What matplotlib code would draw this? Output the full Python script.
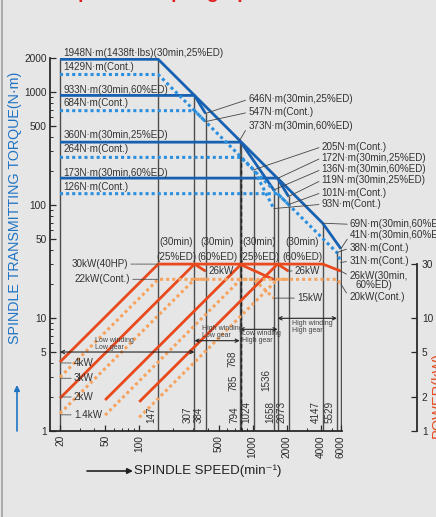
import matplotlib
matplotlib.use("Agg")
import matplotlib.pyplot as plt
from matplotlib.ticker import FixedLocator, FixedFormatter, NullFormatter
from matplotlib.lines import Line2D

plt.rcParams['font.family'] = ['Liberation Sans', 'DejaVu Sans']

# ---- torque curves (speed min-1, torque N·m) ----
ll30_n, ll30_t = [20, 147, 307, 384], [1948, 1948, 933, 646]
llc_n, llc_t = [20, 147, 384], [1429, 1429, 547]
hl30_n, hl30_t = [20, 307, 768, 1536], [933, 933, 373, 136]
hlc_n, hlc_t = [20, 307, 1024, 1536], [684, 684, 205, 93]
lh30_n, lh30_t = [20, 794, 1658, 2073], [360, 360, 172, 119]
lhc_n, lhc_t = [20, 785, 2073], [264, 264, 101]
hh30_n, hh30_t = [20, 1658, 4147, 6000], [173, 173, 69, 41]
hhc_n, hhc_t = [20, 1658, 5529, 6000], [126, 126, 38, 31]

# ---- power curves (speed min-1, power kW) ----
pll30_n, pll30_p = [20, 147, 307, 384], [4.08, 30, 30, 26]
pllc_n, pllc_p = [20, 147, 384], [2.99, 22, 22]
phl30_n, phl30_p = [20, 307, 768, 1536], [1.95, 30, 30, 21.9]
phlc_n, phlc_p = [20, 307, 1024, 1536], [1.43, 22, 22, 15]
plh30_n, plh30_p = [50, 794, 1658, 2073], [1.88, 30, 30, 26]
plhc_n, plhc_p = [50, 785, 2073], [1.38, 22, 22]
phh30_n, phh30_p = [100, 1658, 4147, 6000], [1.81, 30, 30, 26]
phhc_n, phhc_p = [100, 1658, 5529, 6000], [1.32, 22, 22, 20]

# vertical speed lines and the torque where they stop
vl_speed = [20, 147, 307, 384, 768, 794, 1024, 1536, 1658, 2073, 4147, 5529, 6000]
vl_top = [1948, 1948, 933, 646, 373, 360, 205, 136, 172, 119, 69, 38, 41]
low_labels = ['147', '307', '384', '794', '1024', '1658', '2073', '4147', '5529']
up_labels = ['768', '785', '1536']

x_major = [20, 50, 100, 500, 1000, 2000, 4000, 6000]
y_major = [1, 5, 10, 50, 100, 500, 1000, 2000]
p_major = [1, 2, 5, 10, 30]

BLUE, LBLUE = '#1761b2', '#2b8fe0'
RED, ORANGE = '#e8491d', '#f5a35f'
GRAY, TXT = '#4d4d4d', '#333333'
W, H = 436, 517

fig = plt.figure(figsize=(W / 100, H / 100), dpi=100)
fig.patch.set_facecolor('#e6e6e6')
ax = fig.add_axes([50 / W, 1 - 431 / H, 291.5 / W, 373 / H])
ax.set_facecolor('none')
ax.set_xscale('log')
ax.set_yscale('log')
ax.set_xlim(16.33, 6073)
ax.set_ylim(1, 2000)
for s in ['top', 'right']:
    ax.spines[s].set_visible(False)
for s in ['left', 'bottom']:
    ax.spines[s].set_linewidth(1.3)
    ax.spines[s].set_color('#2a2a2a')

# vertical lines
ax.vlines(vl_speed, 1, vl_top, colors=GRAY, lw=1.0, zorder=1)
ax.vlines([785], 1, 264, colors='#222', lw=1.0, linestyles=(0, (3, 2)), zorder=1)

dot = (0, (1, 1))
solid = dict(lw=2.0, solid_capstyle='butt', zorder=3)
dotted = dict(lw=2.2, ls=dot, zorder=3)
for n, t in [(ll30_n, ll30_t), (hl30_n, hl30_t), (lh30_n, lh30_t), (hh30_n, hh30_t)]:
    ax.plot(n, t, color=BLUE, **solid)
for n, t in [(llc_n, llc_t), (hlc_n, hlc_t), (lhc_n, lhc_t), (hhc_n, hhc_t)]:
    ax.plot(n, t, color=LBLUE, **dotted)
for n, p in [(pll30_n, pll30_p), (phl30_n, phl30_p), (plh30_n, plh30_p), (phh30_n, phh30_p)]:
    ax.plot(n, p, color=RED, **solid)
for n, p in [(pllc_n, pllc_p), (phlc_n, phlc_p), (plhc_n, plhc_p), (phhc_n, phhc_p)]:
    ax.plot(n, p, color=ORANGE, **dotted)

# ticks
ax.xaxis.set_major_locator(FixedLocator(x_major))
ax.xaxis.set_major_formatter(FixedFormatter([str(v) for v in x_major]))
ax.xaxis.set_minor_locator(FixedLocator([m * 10 ** k for k in range(1, 4) for m in range(2, 10)
                                         if 16 < m * 10 ** k < 6100 and m * 10 ** k not in x_major]))
ax.xaxis.set_minor_formatter(NullFormatter())
ax.yaxis.set_major_locator(FixedLocator(y_major))
ax.yaxis.set_major_formatter(FixedFormatter([str(v) for v in y_major]))
ax.yaxis.set_minor_locator(FixedLocator([m * 10 ** k for k in range(0, 4) for m in range(2, 10)
                                         if m * 10 ** k < 2000 and m * 10 ** k not in y_major]))
ax.yaxis.set_minor_formatter(NullFormatter())
ax.tick_params(which='major', direction='in', length=4, width=0.9, labelsize=7.3, colors='#2a2a2a')
ax.tick_params(which='minor', direction='in', length=2.5, width=0.7, colors='#2a2a2a')
ax.tick_params(axis='x', which='major', labelrotation=90, pad=3)
ax.tick_params(axis='y', which='major', pad=2.5)

# right power axis
ax2 = fig.add_axes([416.5 / W, 1 - 431 / H, 0.5 / W, 373 / H])
ax2.set_facecolor('none')
ax2.set_yscale('log')
ax2.set_ylim(1, 2000)
ax2.set_xticks([])
for s in ['top', 'left', 'bottom']:
    ax2.spines[s].set_visible(False)
ax2.spines['right'].set_bounds(1, 30)
ax2.spines['right'].set_linewidth(1.3)
ax2.spines['right'].set_color('#2a2a2a')
ax2.yaxis.tick_right()
ax2.yaxis.set_major_locator(FixedLocator(p_major))
ax2.yaxis.set_major_formatter(FixedFormatter([str(v) for v in p_major]))
ax2.yaxis.set_minor_locator(FixedLocator([]))
ax2.tick_params(direction='in', length=4, width=0.9, labelsize=7.3, colors='#2a2a2a')

fs = 7.1
# left torque labels
for txt, y in [("1948N·m(1438ft·lbs)(30min,25%ED)", 2207), ("1429N·m(Cont.)", 1675),
               ("933N·m(30min,60%ED)", 1042), ("684N·m(Cont.)", 795),
               ("360N·m(30min,25%ED)", 416), ("264N·m(Cont.)", 311),
               ("173N·m(30min,60%ED)", 193), ("126N·m(Cont.)", 145)]:
    ax.text(21.4, y, txt, fontsize=fs, color=TXT, va='center', ha='left', clip_on=False)

lead = dict(arrowstyle='-', lw=0.6, color='#444', shrinkA=0, shrinkB=0, relpos=(0, 0.5))
for txt, xy, xyt in [("646N·m(30min,25%ED)", (384, 646), (915, 861)),
                     ("547N·m(Cont.)", (384, 547), (915, 661)),
                     ("373N·m(30min,60%ED)", (768, 373), (915, 503)),
                     ("205N·m(Cont.)", (1024, 205), (4064, 328)),
                     ("172N·m(30min,25%ED)", (1658, 172), (4064, 262)),
                     ("136N·m(30min,60%ED)", (1536, 136), (4064, 207)),
                     ("119N·m(30min,25%ED)", (2073, 119), (4064, 166)),
                     ("101N·m(Cont.)", (2073, 101), (4064, 129)),
                     ("93N·m(Cont.)", (1536, 93), (4064, 101.5)),
                     ("69N·m(30min,60%ED)", (4147, 69), (7215, 67.5)),
                     ("41N·m(30min,60%ED)", (6000, 41), (7215, 54.3)),
                     ("38N·m(Cont.)", (5529, 38), (7100, 41.4)),
                     ("31N·m(Cont.)", (6000, 31), (7100, 31.9)),
                     ("26kW(30min,", (6000, 26), (7100, 23.7)),
                     ("20kW(Cont.)", (6000, 20), (7100, 15.2)),
                     ("26kW", (384, 26), (412, 26.2)),
                     ("26kW", (2073, 26), (2360, 26.2)),
                     ("15kW", (1536, 15), (2460, 15))]:
    ax.annotate(txt, xy=xy, xytext=xyt, fontsize=fs, color=TXT, va='center', ha='left',
                arrowprops=lead, annotation_clip=False)
ax.text(8150, 19.6, "60%ED)", fontsize=fs, color=TXT, va='center', ha='left', clip_on=False)

# left power labels
dash = dict(arrowstyle='-', lw=0.6, color='#444', ls=(0, (2, 1)), shrinkA=0, shrinkB=0)
ax.annotate("30kW(40HP)", xy=(147, 30), xytext=(80, 30), fontsize=fs, color=TXT, ha='right',
            va='center', arrowprops=dict(dash, relpos=(1, 0.5)))
ax.annotate("22kW(Cont.)", xy=(147, 22), xytext=(83, 22), fontsize=fs, color=TXT, ha='right',
            va='center', arrowprops=dict(dash, relpos=(1, 0.5)))
for txt, p in [("4kW", 4.0), ("3kW", 2.93), ("2kW", 2.0), ("1.4kW", 1.39)]:
    ax.annotate(txt, xy=(20.3, p), xytext=(26.5, p), fontsize=fs, color=TXT, ha='left',
                va='center', arrowprops=dict(dash, relpos=(0, 0.5)))

for nc in [212, 486, 1147, 2750]:
    ax.text(nc, 47, "(30min)", fontsize=fs, color=TXT, ha='center', va='center')
for nc, ed in [(212, "(25%ED)"), (486, "(60%ED)"), (1147, "(25%ED)"), (2750, "(60%ED)")]:
    ax.text(nc, 34.9, ed, fontsize=fs, color=TXT, ha='center', va='center')

# speed labels
for v, lab in zip([147, 307, 384, 794, 1024, 1658, 2073, 4147, 5529], low_labels):
    ax.annotate(lab, xy=(v, 1.18), xytext=(-1.5, 0), textcoords='offset points', rotation=90,
                fontsize=fs, color=TXT, ha='right', va='bottom')
for v, y, lab in zip([768, 785, 1536], [3.68, 2.26, 2.26], up_labels):
    ax.annotate(lab, xy=(v, y), xytext=(-1.5, 0), textcoords='offset points', rotation=90,
                fontsize=fs, color=TXT, ha='right', va='bottom')

# winding / gear ranges
arr = dict(arrowstyle='<->', lw=0.8, color='#222', shrinkA=0, shrinkB=0, mutation_scale=6)
for n0, n1, y in [(20, 307, 5.0), (307, 768, 6.3), (768, 1658, 7.94), (1658, 5529, 9.94)]:
    ax.annotate('', xy=(n1, y), xytext=(n0, y), arrowprops=arr)
for n, y, txt in [(40.7, 5.86, "Low winding\nLow gear"), (355, 7.56, "High winding\nLow gear"),
                  (800, 6.79, "Low winding\nHigh gear"), (2208, 8.33, "High winding\nHigh gear")]:
    ax.text(n, y, txt, fontsize=5, color='#444', ha='left', va='center', linespacing=0.95)

# axis titles
fig.text(15.5 / W, 1 - 208 / H, "SPINDLE TRANSMITTING TORQUE(N·m)", rotation=90, color='#1f74c4',
         fontsize=10.3, ha='center', va='center')
fig.add_artist(plt.Annotation('', xy=(17 / W, 1 - 385 / H), xytext=(17 / W, 1 - 431 / H),
                              xycoords='figure fraction',
                              arrowprops=dict(arrowstyle='-|>', color='#1f74c4', lw=1.2,
                                              mutation_scale=8, shrinkA=0, shrinkB=0)))
fig.text(134 / W, 1 - 471 / H, "SPINDLE SPEED(min⁻¹)", color='#222', fontsize=9.5,
         ha='left', va='center')
fig.add_artist(plt.Annotation('', xy=(133 / W, 1 - 471 / H), xytext=(87 / W, 1 - 471 / H),
                              xycoords='figure fraction',
                              arrowprops=dict(arrowstyle='-|>', color='#222', lw=1.2,
                                              mutation_scale=8, shrinkA=0, shrinkB=0)))
fig.text(438 / W, 1 - 395 / H, "POWER(kW)", rotation=90, color=RED, fontsize=10.5,
         ha='center', va='center')
fig.text(0.15, 1.0 + 2 / H, "Spindle output graph", color='#e01e1e', fontsize=14,
         fontweight='bold', ha='left', va='baseline')
fig.add_artist(Line2D([2 / W, 2 / W], [0, 1], transform=fig.transFigure, color='#a0a0a0', lw=1.2))

fig.savefig('out.png', dpi=100, facecolor=fig.get_facecolor())
